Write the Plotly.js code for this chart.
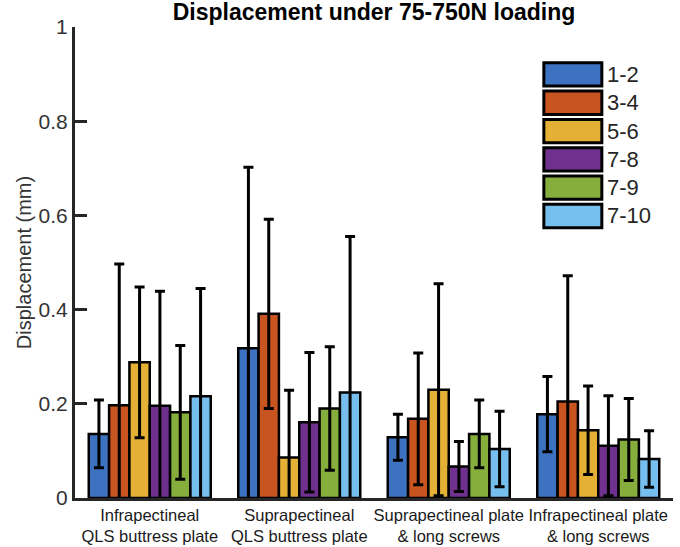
<!DOCTYPE html>
<html>
<head>
<meta charset="utf-8">
<script src="https://cdn.plot.ly/plotly-3.0.1.min.js"></script>
<style>html,body{margin:0;padding:0;background:#fff;}#chart{width:680px;height:547px;}</style>
</head>
<body>
<div id="chart"></div>
<script>
// Categories (x tick labels)
const categories = [
  "Infrapectineal<br>QLS buttress plate",
  "Suprapectineal<br>QLS buttress plate",
  "Suprapectineal plate<br>& long screws",
  "Infrapectineal plate<br>& long screws"
];
// Series names
const seriesNames = ["1-2", "3-4", "5-6", "7-8", "7-9", "7-10"];
// Mean displacement (mm) per series, across the four categories
const s12  = [0.136, 0.318, 0.129, 0.178];
const s34  = [0.197, 0.391, 0.168, 0.205];
const s56  = [0.288, 0.086, 0.230, 0.144];
const s78  = [0.196, 0.161, 0.067, 0.111];
const s79  = [0.182, 0.190, 0.136, 0.124];
const s710 = [0.216, 0.224, 0.104, 0.083];
// Error (± SD) per series
const e12  = [0.072, 0.384, 0.049, 0.080];
const e34  = [0.300, 0.201, 0.140, 0.267];
const e56  = [0.160, 0.143, 0.225, 0.094];
const e78  = [0.243, 0.148, 0.053, 0.106];
const e79  = [0.142, 0.131, 0.072, 0.087];
const e710 = [0.229, 0.331, 0.080, 0.060];
// Y tick values / labels
const yTickVals = [0, 0.2, 0.4, 0.6, 0.8, 1];
const yTickText = ["0", "0.2", "0.4", "0.6", "0.8", "1"];

const seriesValues = [s12, s34, s56, s78, s79, s710];
const seriesErrors = [e12, e34, e56, e78, e79, e710];
const colors = ["#3D72C0", "#C8551F", "#E4B035", "#70308E", "#86AE3D", "#75BEEE"];

const FONT = "Arial, 'Liberation Sans', Helvetica, sans-serif";
const AX = "#262626";

const traces = seriesNames.map((name, i) => ({
  type: "bar",
  name: name,
  x: categories,
  y: seriesValues[i],
  marker: { color: colors[i], line: { color: "#000", width: 2.5 } },
  error_y: { type: "data", array: seriesErrors[i], visible: true, color: "#000", thickness: 3, width: 5 },
  showlegend: false
}));

// Custom legend (MATLAB-style large swatches)
const shapes = [];
const annotations = [];
const lx0 = 0.784, lx1 = 0.881, ly0 = 0.924, sh = 0.0495, pitch = 0.0601;
seriesNames.forEach((name, i) => {
  const top = ly0 - i * pitch;
  shapes.push({
    type: "rect", xref: "paper", yref: "paper",
    x0: lx0, x1: lx1, y0: top - sh, y1: top,
    fillcolor: colors[i], line: { color: "#000", width: 3 }
  });
  annotations.push({
    xref: "paper", yref: "paper", x: 0.886, y: top - sh / 2,
    xanchor: "left", yanchor: "middle", showarrow: false,
    text: name, font: { family: FONT, size: 22, color: AX }
  });
});

const layout = {
  width: 680, height: 547,
  margin: { l: 75, r: 7, t: 27, b: 49 },
  paper_bgcolor: "#fff", plot_bgcolor: "#fff",
  font: { family: FONT, color: AX },
  title: {
    text: "<b>Displacement under 75-750N loading</b>",
    font: { family: FONT, size: 23, color: "#000" },
    x: 0.5, xref: "paper", y: 0.978, yref: "container", yanchor: "middle"
  },
  barmode: "group",
  bargap: 0.184,
  bargroupgap: 0,
  xaxis: {
    type: "category",
    showline: true, linecolor: AX, linewidth: 3,
    ticks: "", showgrid: false, zeroline: false,
    tickangle: 0,
    tickfont: { family: FONT, size: 16.5, color: "#1a1a1a" }
  },
  yaxis: {
    range: [0, 1],
    tickvals: yTickVals, ticktext: yTickText,
    showline: true, linecolor: AX, linewidth: 3,
    ticks: "inside", ticklen: 12, tickwidth: 3, tickcolor: AX,
    showgrid: false, zeroline: false,
    tickfont: { family: FONT, size: 21, color: "#333" },
    title: { text: "Displacement (mm)", font: { family: FONT, size: 20, color: "#333" }, standoff: 2 }
  },
  shapes: shapes,
  annotations: annotations
};

Plotly.newPlot("chart", traces, layout, { displayModeBar: false, staticPlot: true });
</script>
</body>
</html>
